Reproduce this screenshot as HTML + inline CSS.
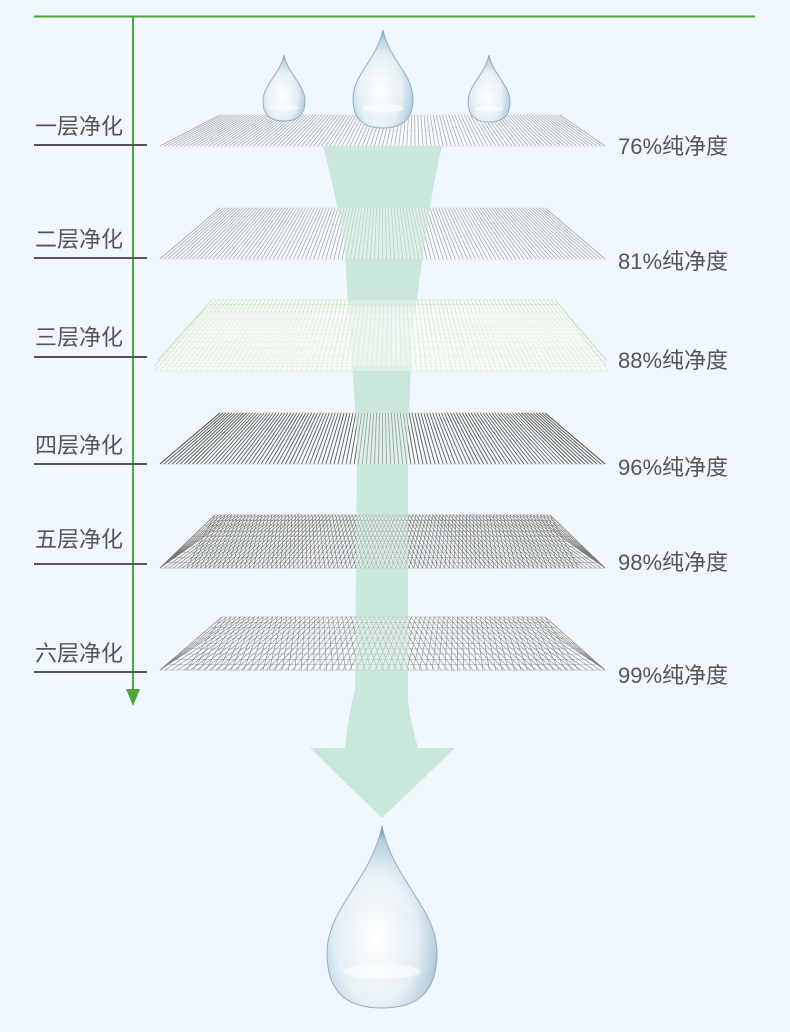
<!DOCTYPE html>
<html><head><meta charset="utf-8"><style>
html,body{margin:0;padding:0;background:#f0f7fe;}
svg{display:block}
text{font-family:"Liberation Sans","Noto Sans CJK SC",sans-serif;fill:#555;}
</style></head><body>
<svg id="s" width="790" height="1032" viewBox="0 0 790 1032" xmlns="http://www.w3.org/2000/svg">
<defs>
<radialGradient id="dg" cx="0.45" cy="0.62" r="0.6">
<stop offset="0" stop-color="#ffffff"/>
<stop offset="0.6" stop-color="#e6f0f6"/>
<stop offset="0.9" stop-color="#b9cfdd"/>
<stop offset="1" stop-color="#7f9fb5"/>
</radialGradient>
</defs>
<rect width="790" height="1032" fill="#f0f7fe"/>
<line x1="34" y1="16.5" x2="755" y2="16.5" stroke="#4fa43c" stroke-width="2"/>
<line x1="133" y1="16" x2="133" y2="692" stroke="#4fa43c" stroke-width="2"/>
<polygon points="126,689 140,689 133,706" fill="#4fa43c"/>
<g id="meshes"></g>
<path d="M323,146 L442,146 C432,190 428,220 425,240 L412,335 L408,437 L408,700 C410,720 416,740 418,748 L455,748 L382,818 L310,748 L345,748 C348,720 352,700 355,690 L357,437 L350,335 L344,240 C338,210 332,180 323,146 Z" fill="#c6e6d8" opacity="0.92"/>
<g id="meshes2"></g>
<g font-size="22">
<text x="35" y="134">一层净化</text>
<text x="35" y="247">二层净化</text>
<text x="35" y="345">三层净化</text>
<text x="35" y="453">四层净化</text>
<text x="35" y="547">五层净化</text>
<text x="35" y="661">六层净化</text>
<text x="618" y="154">76%纯净度</text>
<text x="618" y="269">81%纯净度</text>
<text x="618" y="368">88%纯净度</text>
<text x="618" y="475">96%纯净度</text>
<text x="618" y="570">98%纯净度</text>
<text x="618" y="683">99%纯净度</text>
</g>
<g stroke="#555" stroke-width="2">
<line x1="34" y1="145" x2="147" y2="145"/>
<line x1="34" y1="258" x2="147" y2="258"/>
<line x1="34" y1="357" x2="147" y2="357"/>
<line x1="34" y1="464" x2="147" y2="464"/>
<line x1="34" y1="564" x2="147" y2="564"/>
<line x1="34" y1="672" x2="147" y2="672"/>
</g>
<g id="drops"></g>
</svg>
<script>
var NS="http://www.w3.org/2000/svg";
function el(p,t,a){var e=document.createElementNS(NS,t);for(var k in a)e.setAttribute(k,a[k]);p.appendChild(e);return e;}
var M=document.getElementById('meshes'),M2=document.getElementById('meshes2');
function mesh(g,ty,by,tl,tr,bl,br,n,col,w,op,h,cross,hcol){
  el(g,'polygon',{points:tl+','+ty+' '+tr+','+ty+' '+br+','+by+' '+bl+','+by,fill:'#fff',opacity:0.35});
  var d='',dh='';
  for(var i=0;i<=n;i++){var f=i/n;var x1=tl+(tr-tl)*f,x2=bl+(br-bl)*f;
    if(cross){var f2=Math.min(1,f+0.06),f3=Math.max(0,f-0.06);
      d+='M'+x1.toFixed(1)+','+ty+'L'+(bl+(br-bl)*f2).toFixed(1)+','+by;
      d+='M'+x1.toFixed(1)+','+ty+'L'+(bl+(br-bl)*f3).toFixed(1)+','+by;}
    else d+='M'+x1.toFixed(1)+','+ty+'L'+x2.toFixed(1)+','+by;}
  for(var j=0;j<=h;j++){var f=j/h;var y=ty+(by-ty)*f;var l=tl+(bl-tl)*f,r=tr+(br-tr)*f;dh+='M'+l.toFixed(1)+','+y.toFixed(1)+'L'+r.toFixed(1)+','+y.toFixed(1);}
  el(g,'path',{d:d,stroke:col,'stroke-width':w,fill:'none',opacity:op});
  el(g,'path',{d:dh,stroke:hcol||col,'stroke-width':0.6,fill:'none',opacity:op*0.5});
}
function all(g,k){
mesh(g,115,146,220,560,160,605,110,'#8a8f99',0.7,k,2,false,'#ccd');
mesh(g,208,259,220,545,160,605,110,'#8a8f99',0.7,k,3,false,'#ccd');
mesh(g,300,360,212,555,158,606,90,'#b7d6a8',0.7,k,14);
mesh(g,306,366,208,560,155,606,90,'#c4ddb6',0.6,k,10);
mesh(g,312,371,205,562,155,608,90,'#c4ddb6',0.6,k*0.8,8);
mesh(g,413,464,220,545,160,605,110,'#333',0.9,k,3,false,'#bbb');
mesh(g,515,568,215,550,160,605,100,'#555',0.6,k,10,true);
mesh(g,617,670,222,545,160,605,70,'#666',0.55,k,10,true);
}
all(M,1);all(M2,0.35);
var D=document.getElementById('drops');
function drop(cx,ty,w,h){
  var by=ty+h,r=w/2,my=ty+h*0.7;
  var d='M'+cx+','+ty+' C'+(cx+r*0.2)+','+(ty+h*0.3)+' '+(cx+r)+','+(ty+h*0.45)+' '+(cx+r)+','+my+
  ' C'+(cx+r)+','+(by-h*0.05)+' '+(cx+r*0.5)+','+by+' '+cx+','+by+
  ' C'+(cx-r*0.5)+','+by+' '+(cx-r)+','+(by-h*0.05)+' '+(cx-r)+','+my+
  ' C'+(cx-r)+','+(ty+h*0.45)+' '+(cx-r*0.2)+','+(ty+h*0.3)+' '+cx+','+ty+'Z';
  el(D,'path',{d:d,fill:'url(#dg)',stroke:'#8fb0c6','stroke-width':1});
  el(D,'ellipse',{cx:cx,cy:by-h*0.2,rx:r*0.7,ry:h*0.04,fill:'#fff',opacity:0.6});
}
drop(284,55,42,66);
drop(383,30,60,98);
drop(489,55,42,67);
drop(382,826,110,182);
</script>
</body></html>
